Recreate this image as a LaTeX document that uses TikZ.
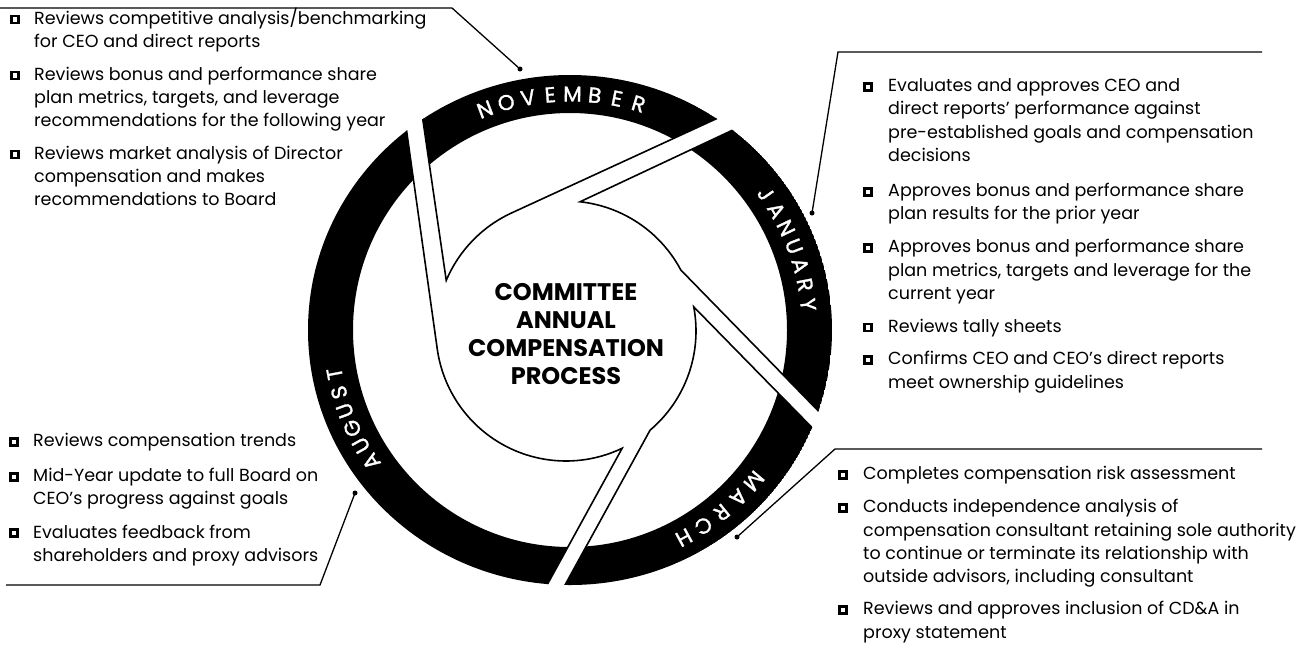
\documentclass[tikz,border=0pt]{standalone}
\usepackage{fontspec}
\setmainfont{Poppins}
\newfontfamily\monfont[FakeBold=1.4]{Poppins}
\usetikzlibrary{calc}
% one aperture blade: #1 far end of leading edge, #2 tip angle, #3 kink angle, #4 far end of trailing edge, #5 extra clip points
\newcommand\myblade[5]{%
  \begin{scope}
    \clip #1 -- ($(ci)+(#2:130)$) arc[start angle=#2,end angle=#3,radius=130] -- #4 #5 -- cycle;
    \fill[even odd rule] (O) ellipse[x radius=262,y radius=255] (O) circle[radius=217];
  \end{scope}
  \draw[blade] #1 -- ($(ci)+(#2:130)$) arc[start angle=#2,end angle=#3,radius=130] -- #4;
}
% one bullet item: #1 name, #2 bullet x, #3 text x, #4 centre y of first line (down), #5 lines
\newcommand\blk[5]{%
  \node[bul] (#1b) at (#2,-#4) {};
  \node[txt] (#1t) at (#3,{-(#4+4.8)}) {\begin{tabular}[t]{@{}l@{}}#5\end{tabular}};
}
\begin{document}
\begin{tikzpicture}[x=1pt,y=1pt,
  txt/.style={anchor=base west,inner sep=0pt,font=\fontsize{17.5}{23.3}\selectfont},
  bul/.style={shape=rectangle,draw=black,line width=2.8pt,fill=white,minimum size=7pt,inner sep=0pt},
  dot/.style={circle,fill=black,inner sep=0pt,minimum size=5pt},
  lead/.style={line width=1.3pt},
  blade/.style={line width=1.6pt,line join=miter},
  mon/.style={text=white,inner sep=0pt,font=\monfont\fontsize{21.5}{21.5}\selectfont},
  title/.style={align=center,inner sep=0pt,font=\fontsize{24}{28.3}\selectfont\bfseries}]
\useasboundingbox (0,0) rectangle (1300,-646);
\coordinate (O) at (570,-330);
\coordinate (ci) at (566,-331);

% ---------------- the wheel ----------------
\begin{scope}
  \clip (O) ellipse[x radius=262,y radius=255];
  \myblade{(403,16.5)}{157.1}{114.8}{(874.9,-45.8)}{}
  \myblade{(896.8,-53)}{83.8}{28}{(925.3,-520.6)}{}
  \myblade{(938.7,-556.9)}{10.7}{-49.7}{(505.6,-693.1)}{}
  \myblade{(477.7,-711.2)}{-64.4}{-172.1}{(381.6,47.1)}{-- (-100,47.1) -- (-100,-711.2)}
\end{scope}

% month labels
\foreach \ch [count=\i] in {N,O,V,E,M,B,E,R} {
  \pgfmathsetmacro\ang{110.8-(\i-1)*5.35}
  \node[mon,rotate=\ang-90] (nov\i) at ($(O)+(\ang:239.5 and 236)$) {\ch};
}
\foreach \ch [count=\i] in {J,A,N,U,A,R,Y} {
  \pgfmathsetmacro\ang{35.3-(\i-1)*4.85}
  \node[mon,rotate=\ang-90] (jan\i) at ($(O)+(\ang:239.5 and 236)$) {\ch};
}
\foreach \ch [count=\i] in {M,A,R,C,H} {
  \pgfmathsetmacro\ang{-39.8-(\i-1)*5.45}
  \node[mon,rotate=\ang-90] (mar\i) at ($(O)+(\ang:239.5 and 236)$) {\ch};
}
\foreach \ch [count=\i] in {A,U,G,U,S,T} {
  \pgfmathsetmacro\ang{213.9-(\i-1)*4.64}
  \node[mon,rotate=\ang-90] (aug\i) at ($(O)+(\ang:239.5 and 236)$) {\ch};
}

\node[title] (ttl) at (566,-334) {COMMITTEE\\ANNUAL\\COMPENSATION\\PROCESS};

% ---------------- leader lines ----------------
\node[dot] (dN) at (520,-69) {};
\coordinate (hN0) at (0,-8);
\coordinate (hN1) at (452,-8);
\draw[lead] (hN0) -- (hN1) -- (dN.center);

\node[dot] (dJ) at (812,-213) {};
\coordinate (hJ0) at (1262,-52);
\coordinate (hJ1) at (838,-52);
\draw[lead] (hJ0) -- (hJ1) -- (dJ.center);

\node[dot] (dM) at (737,-537) {};
\coordinate (hM0) at (1262,-449);
\coordinate (hM1) at (835,-449);
\draw[lead] (hM0) -- (hM1) -- (dM.center);

\node[dot] (dA) at (355,-493) {};
\coordinate (hA0) at (6,-585);
\coordinate (hA1) at (320,-585);
\draw[lead] (hA0) -- (hA1) -- (dA.center);

% ---------------- text blocks ----------------
\blk{nA}{15}{34}{19.5}{Reviews competitive analysis/benchmarking\\for CEO and direct reports}
\blk{nB}{15}{34}{75.5}{Reviews bonus and performance share\\plan metrics, targets, and leverage\\recommendations for the following year}
\blk{nC}{15}{34}{154.5}{Reviews market analysis of Director\\compensation and makes\\recommendations to Board}

\blk{jA}{868}{888}{86.7}{Evaluates and approves CEO and\\direct reports’ performance against\\pre-established goals and compensation\\decisions}
\blk{jB}{868}{888}{191.7}{Approves bonus and performance share\\plan results for the prior year}
\blk{jC}{868}{888}{248}{Approves bonus and performance share\\plan metrics, targets and leverage for the\\current year}
\blk{jD}{868}{888}{327.5}{Reviews tally sheets}
\blk{jE}{868}{888}{360}{Confirms CEO and CEO’s direct reports\\meet ownership guidelines}

\blk{aA}{14}{33}{441.7}{Reviews compensation trends}
\blk{aB}{14}{33}{476.7}{Mid-Year update to full Board on\\CEO’s progress against goals}
\blk{aC}{14}{33}{533.3}{Evaluates feedback from\\shareholders and proxy advisors}

\blk{mA}{843}{863}{475}{Completes compensation risk assessment}
\blk{mB}{843}{863}{508}{Conducts independence analysis of\\compensation consultant retaining sole authority\\to continue or terminate its relationship with\\outside advisors, including consultant}
\blk{mC}{843}{863}{610}{Reviews and approves inclusion of CD\&A in\\proxy statement}
\end{tikzpicture}
\end{document}
